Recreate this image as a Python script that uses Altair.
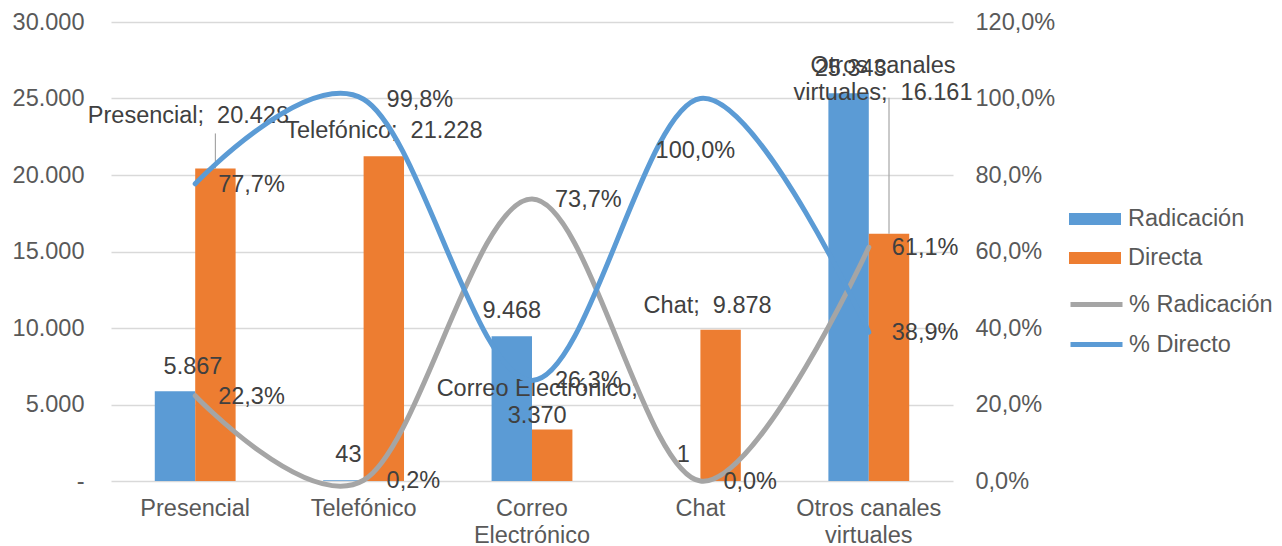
import altair as alt
import pandas as pd

# ---------------- data ----------------
categories = ["Presencial", "Telefónico", "Correo Electrónico", "Chat", "Otros canales virtuales"]
radicacion = [5867, 43, 9468, 1, 25343]
directa = [20428, 21228, 3370, 9878, 16161]
pct_radicacion = [0.223, 0.002, 0.737, 0.000, 0.611]
pct_directo = [0.777, 0.998, 0.263, 1.000, 0.389]
left_ticks = [0, 5000, 10000, 15000, 20000, 25000, 30000]
right_ticks = [0, 0.2, 0.4, 0.6, 0.8, 1.0, 1.2]
bar_series = ["Radicación", "Directa"]
line_series = ["% Radicación", "% Directo"]

FONT = "Liberation Sans"
FS = 23.5
BLUE = "#5B9BD5"
ORANGE = "#ED7D31"
GRAY = "#A5A5A5"
TXT = "#404040"
AX = "#595959"
PI = 0.52  # band inner padding (gap between category groups)
NB = "\u00a0"
W, H = 842, 459
LEFT_MAX = 30000


def fmt_num(v):
    return f"{v:,}".replace(",", ".")


def fmt_pct(p):
    return f"{p * 100:.1f}%".replace(".", ",")


def wrap(s, limit=20):
    words = s.split(" ")
    lines, cur = [], ""
    for w in words:
        cand = w if cur == "" else cur + " " + w
        if len(cand) > limit and cur.strip() != "":
            lines.append(cur.rstrip())
            cur = w
        else:
            cur = cand
    lines.append(cur)
    return "\n".join(l.strip() for l in lines)


bar_rows = []
for c, r, d in zip(categories, radicacion, directa):
    bar_rows.append(dict(cat=c, serie="Radicación", value=r, label=fmt_num(r)))
    bar_rows.append(dict(cat=c, serie="Directa", value=d,
                         label=wrap(f"{c};{NB} {fmt_num(d)}")))
bars_df = pd.DataFrame(bar_rows)

pct_rows = []
for c, pr, pd_ in zip(categories, pct_radicacion, pct_directo):
    pct_rows.append(dict(cat=c, serie="% Radicación", pct=pr, label=fmt_pct(pr)))
    pct_rows.append(dict(cat=c, serie="% Directo", pct=pd_, label=fmt_pct(pd_)))
pct_df = pd.DataFrame(pct_rows)

# ---------------- encodings ----------------
x_scale = alt.Scale(domain=categories, paddingInner=PI, paddingOuter=PI / 2)
x_enc = alt.X(
    "cat:N",
    sort=categories,
    scale=x_scale,
    axis=alt.Axis(
        title=None, domain=False, ticks=False, labelAngle=0, labelPadding=15,
        labelFontSize=FS, labelFont=FONT, labelColor=AX, labelLineHeight=27,
        labelExpr="datum.value == 'Correo Electrónico' ? ['Correo', 'Electrónico'] : "
                  "datum.value == 'Otros canales virtuales' ? ['Otros canales', 'virtuales'] : datum.label",
    ),
)
x_plain = alt.X("cat:N", sort=categories, scale=x_scale)
xoff = alt.XOffset("serie:N", sort=bar_series,
                   scale=alt.Scale(domain=bar_series, paddingInner=0, paddingOuter=0))

left_scale = alt.Scale(domain=[0, LEFT_MAX], zero=True, nice=False)
right_scale = alt.Scale(domain=[0, 1.2], zero=True, nice=False)

bars = alt.Chart(bars_df).mark_bar().encode(
    x=x_enc,
    xOffset=xoff,
    y=alt.Y("value:Q", scale=left_scale, title=None, axis=alt.Axis(
        title=None, values=left_ticks, domain=False, ticks=False, grid=True,
        gridColor="#D9D9D9", gridWidth=1.3, labelPadding=27,
        labelFontSize=FS, labelFont=FONT, labelColor=AX,
        labelExpr="datum.value == 0 ? '-\u00a0\u00a0' : replace(format(datum.value, ','), ',', '.')",
    )),
    fill=alt.Fill("serie:N", sort=bar_series,
                  scale=alt.Scale(domain=bar_series, range=[BLUE, ORANGE]),
                  legend=alt.Legend(
                      title=None, orient="none", legendX=957, legendY=170,
                      symbolType="M-1,-0.23H1V0.23H-1Z", symbolSize=2704,
                      labelFontSize=FS, labelFont=FONT, labelColor=AX,
                      labelOffset=6, rowPadding=-5, padding=0,
                  )),
)

# leader lines (length in pixels above the bar top) for labels moved away
leader_len_px = {"Presencial": 35, "Otros canales virtuales": 136}
leader_layers = []
for c, px in leader_len_px.items():
    leader_layers.append(
        alt.Chart(bars_df).transform_filter(
            (alt.datum.cat == c) & (alt.datum.serie == "Directa")
        ).transform_calculate(
            top=f"datum.value + {px * LEFT_MAX / H}"
        ).mark_rule(color="#A6A6A6", strokeWidth=1.2).encode(
            x=x_plain, xOffset=xoff,
            y=alt.Y("value:Q", scale=left_scale, title=None),
            y2="top:Q",
        )
    )

# bar labels: placement per label (dx, dy, relative to bar top centre)
bar_label_place = {
    ("Presencial", "Radicación"): (18, -24),
    ("Presencial", "Directa"): (-27, -52),
    ("Telefónico", "Radicación"): (5, -25),
    ("Telefónico", "Directa"): (0, -25),
    ("Correo Electrónico", "Radicación"): (0, -25),
    ("Correo Electrónico", "Directa"): (-15, -40),
    ("Chat", "Radicación"): (3, -26),
    ("Chat", "Directa"): (-13, -24),
    ("Otros canales virtuales", "Radicación"): (2, -24),
    ("Otros canales virtuales", "Directa"): (-6, -168),
}
bar_text_layers = []
for (c, s), (dx, dy) in bar_label_place.items():
    bar_text_layers.append(
        alt.Chart(bars_df).transform_filter(
            (alt.datum.cat == c) & (alt.datum.serie == s)
        ).mark_text(
            dx=dx, dy=dy, align="center", baseline="middle", lineBreak="\n",
            lineHeight=27, font=FONT, fontSize=FS, color=TXT,
        ).encode(
            x=x_plain, xOffset=xoff,
            y=alt.Y("value:Q", scale=left_scale, title=None),
            text="label:N",
        )
    )

left = alt.layer(bars, *leader_layers, *bar_text_layers)

lines = alt.Chart(pct_df).mark_line(
    interpolate="cardinal", tension=0, strokeWidth=5, strokeCap="round"
).encode(
    x=x_plain,
    y=alt.Y("pct:Q", scale=right_scale, title=None, axis=alt.Axis(
        orient="right", title=None, values=right_ticks, domain=False, ticks=False,
        grid=False, labelPadding=22, labelFontSize=FS, labelFont=FONT, labelColor=AX,
        labelExpr="replace(format(datum.value, '.1%'), '.', ',')",
    )),
    stroke=alt.Stroke("serie:N", sort=line_series,
                      scale=alt.Scale(domain=line_series, range=[GRAY, BLUE]),
                      legend=alt.Legend(
                          title=None, orient="none", legendX=957, legendY=254,
                          symbolType="stroke", symbolSize=2704, symbolStrokeWidth=5,
                          labelFontSize=FS, labelFont=FONT, labelColor=AX,
                          labelOffset=4, rowPadding=-5, padding=0,
                      )),
    order=alt.Order("serie:N"),
)

pct_text_general = alt.Chart(pct_df).transform_filter(
    ~((alt.datum.cat == "Chat") & (alt.datum.serie == "% Directo"))
).mark_text(
    dx=23, dy=1, align="left", baseline="middle", font=FONT, fontSize=FS, color=TXT,
).encode(
    x=x_plain,
    y=alt.Y("pct:Q", scale=right_scale, title=None),
    text="label:N",
)
pct_text_chat = alt.Chart(pct_df).transform_filter(
    (alt.datum.cat == "Chat") & (alt.datum.serie == "% Directo")
).mark_text(
    dx=-5, dy=52, align="center", baseline="middle", font=FONT, fontSize=FS, color=TXT,
).encode(
    x=x_plain,
    y=alt.Y("pct:Q", scale=right_scale, title=None),
    text="label:N",
)

right = alt.layer(lines, pct_text_general, pct_text_chat)

chart = alt.layer(left, right).resolve_scale(
    y="independent", fill="independent", stroke="independent"
).properties(
    width=W, height=H,
    padding={"left": 111, "top": 22, "right": 329, "bottom": 65},
    autosize=alt.AutoSizeParams(type="none"),
    background="white",
).configure_view(stroke=None)

chart.save("out.html", embed_options={"renderer": "svg", "actions": False})
